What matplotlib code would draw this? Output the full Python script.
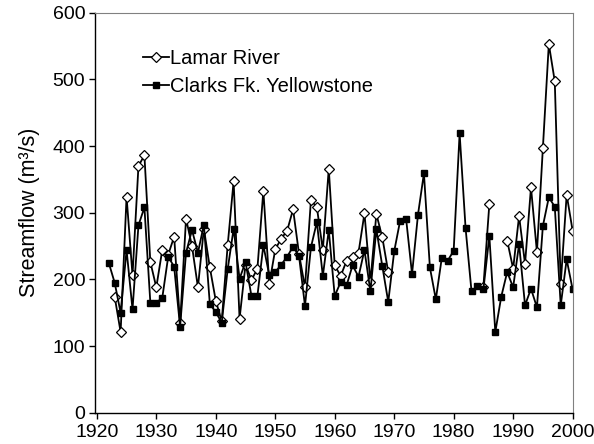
import numpy as np
import matplotlib
matplotlib.use("Agg")
import matplotlib.pyplot as plt

plt.rcParams["font.family"] = ["Liberation Sans", "DejaVu Sans"]

# annual mean streamflow (m3/s)
clarks_years = list(range(1922, 2001))
clarks_flow = [
    225, 195, 150, 244, 155, 281, 308, 165, 165, 172,   # 1922-1931
    234, 219, 129, 240, 274, 240, 282, 163, 151, 135,   # 1932-1941
    215, 276, 201, 226, 175, 175, 251, 206, 211, 222,   # 1942-1951
    234, 249, 235, 160, 248, 286, 205, 274, 175, 196,   # 1952-1961
    191, 221, 204, 244, 182, 275, 220, 166, 242, 288,   # 1962-1971
    291, 208, 297, 359, 218, 170, 232, 228, 243, 419,   # 1972-1981
    277, 182, 190, 185, 265, 121, 174, 211, 188, 253,   # 1982-1991
    161, 186, 158, 280, 323, 309, 161, 230, 185,        # 1992-2000
]

lamar_years = list(range(1923, 2001))
nan = np.nan
lamar_flow = [
    174, 121, 324, 206, 370, 386, 226, 188,             # 1923-1930
    244, 237, 264, 134, 291, 250, 188, 276, 218, 168,   # 1931-1940
    137, 251, 347, 141, 222, 199, 216, 333, 193, 245,   # 1941-1950
    261, 273, 305, 238, 188, 319, 308, 244, 366, 221,   # 1951-1960
    205, 228, 234, 240, 299, 196, 298, 263, 211, nan,   # 1961-1970
    nan, nan, nan, nan, nan, nan, nan, nan, nan, nan,   # 1971-1980
    nan, nan, nan, nan, 189, 313, nan, nan, 258, 216,   # 1981-1990
    295, 223, 338, 241, 397, 553, 497, 193, 327, 273,   # 1991-2000
]

fig = plt.figure(figsize=(5.94, 4.44), dpi=100)
ax = fig.add_axes([0.160, 0.0705, 0.805, 0.901])

ax.plot(lamar_years, lamar_flow, color="black", lw=1.3, marker="D",
        ms=5, mfc="white", mec="black", mew=0.9, label="Lamar River")
ax.plot(clarks_years, clarks_flow, color="black", lw=1.3, marker="s",
        ms=4.8, mfc="black", mec="black", label="Clarks Fk. Yellowstone")

ax.set_xlim(1919.7, 2000.1)
ax.set_ylim(0, 600)
ax.set_xticks(range(1920, 2001, 10))
ax.set_yticks(range(0, 601, 100))
ax.tick_params(direction="out", length=4, width=1, labelsize=14,
               colors="black")
ax.tick_params(axis="x", pad=4)
ax.tick_params(axis="y", pad=3)
ax.set_ylabel("Streamflow (m³/s)", fontsize=15.5, labelpad=9)

for side in ["top", "right"]:
    ax.spines[side].set_color("0.5")
    ax.spines[side].set_linewidth(0.8)
for side in ["left", "bottom"]:
    ax.spines[side].set_linewidth(1.0)

ax.legend(loc="upper left", bbox_to_anchor=(143 / 594, 1 - 49 / 444),
          bbox_transform=fig.transFigure, frameon=False, fontsize=14.5,
          handlelength=1.3, handletextpad=0.05, labelspacing=0.45,
          borderpad=0, borderaxespad=0)

fig.savefig("out.png", dpi=100)
plt.close()
